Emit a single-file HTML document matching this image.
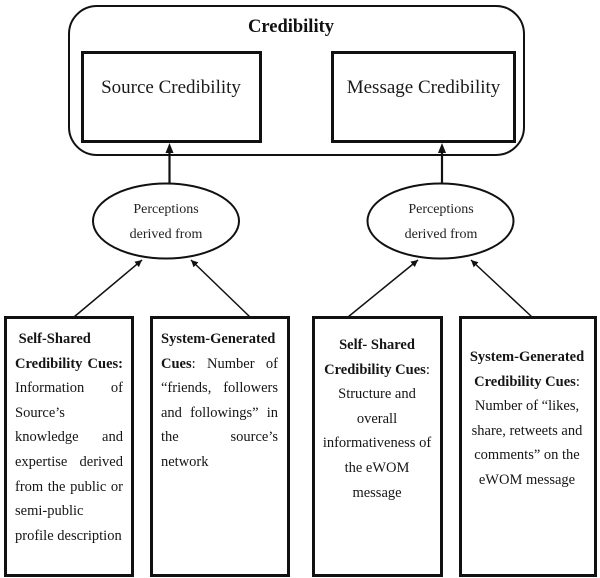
<!DOCTYPE html>
<html>
<head>
<meta charset="utf-8">
<style>
  html,body{margin:0;padding:0;background:#fff;}
  body{width:600px;height:578px;position:relative;overflow:hidden;}
  svg{position:absolute;left:0;top:0;}
  .tb{position:absolute;font-family:"Liberation Serif",serif;font-size:14.5px;line-height:24.6px;color:#151515;}
  .tb div{white-space:nowrap;}
  .j{text-align:justify;text-align-last:justify;white-space:normal !important;}
  .c{text-align:center;}
  b{font-weight:bold;}
</style>
</head>
<body>
<svg width="600" height="578" viewBox="0 0 600 578" xmlns="http://www.w3.org/2000/svg">
  <defs>
    <marker id="ah" viewBox="0 0 10 10" refX="10" refY="5" markerWidth="7" markerHeight="7" markerUnits="userSpaceOnUse" orient="auto">
      <path d="M0,0 L10,5 L0,10 z" fill="#111"/>
    </marker>
  </defs>
  <!-- outer rounded container -->
  <rect x="69" y="6" width="455" height="149" rx="28" ry="28" fill="none" stroke="#111" stroke-width="2"/>
  <text x="291" y="32" text-anchor="middle" font-family="Liberation Serif, serif" font-weight="bold" font-size="18.5" fill="#111">Credibility</text>
  <!-- inner boxes -->
  <rect x="82.5" y="52.5" width="178" height="89" fill="#fff" stroke="#111" stroke-width="3"/>
  <rect x="332.5" y="52.5" width="182" height="89" fill="#fff" stroke="#111" stroke-width="3"/>
  <text x="171" y="93" text-anchor="middle" font-family="Liberation Serif, serif" font-size="19" fill="#1a1a1a">Source Credibility</text>
  <text x="423.5" y="93" text-anchor="middle" font-family="Liberation Serif, serif" font-size="19" fill="#1a1a1a">Message Credibility</text>

  <!-- vertical arrows -->
  <line x1="169.5" y1="184" x2="169.5" y2="150" stroke="#111" stroke-width="2.2"/>
  <path d="M169.5,143 L173.5,153 L165.5,153 z" fill="#111"/>
  <line x1="442" y1="184" x2="442" y2="150" stroke="#111" stroke-width="2.2"/>
  <path d="M442,143 L446,153 L438,153 z" fill="#111"/>

  <!-- ellipses -->
  <ellipse cx="166" cy="221" rx="73" ry="37.5" fill="#fff" stroke="#111" stroke-width="2"/>
  <ellipse cx="440.5" cy="221" rx="73" ry="37.5" fill="#fff" stroke="#111" stroke-width="2"/>
  <text x="166" y="213" text-anchor="middle" font-family="Liberation Serif, serif" font-size="14" fill="#222">Perceptions</text>
  <text x="166" y="238" text-anchor="middle" font-family="Liberation Serif, serif" font-size="14" fill="#222">derived from</text>
  <text x="441" y="213" text-anchor="middle" font-family="Liberation Serif, serif" font-size="14" fill="#222">Perceptions</text>
  <text x="441" y="238" text-anchor="middle" font-family="Liberation Serif, serif" font-size="14" fill="#222">derived from</text>

  <!-- diagonal arrows -->
  <line x1="74" y1="317" x2="142" y2="260" stroke="#111" stroke-width="1.5" marker-end="url(#ah)"/>
  <line x1="250" y1="317" x2="191" y2="260" stroke="#111" stroke-width="1.5" marker-end="url(#ah)"/>
  <line x1="348" y1="317" x2="418" y2="260" stroke="#111" stroke-width="1.5" marker-end="url(#ah)"/>
  <line x1="532" y1="317" x2="471" y2="260" stroke="#111" stroke-width="1.5" marker-end="url(#ah)"/>

  <!-- bottom boxes -->
  <rect x="5.5" y="317.5" width="127" height="258" fill="#fff" stroke="#111" stroke-width="3"/>
  <rect x="151.5" y="317.5" width="137" height="258" fill="#fff" stroke="#111" stroke-width="3"/>
  <rect x="313.5" y="317.5" width="128" height="258" fill="#fff" stroke="#111" stroke-width="3"/>
  <rect x="460.5" y="317.5" width="135" height="258" fill="#fff" stroke="#111" stroke-width="3"/>
</svg>

<div class="tb" style="left:15px;top:327px;width:108px;">
  <div>&nbsp;<b>Self-Shared</b></div>
  <div class="j"><b>Credibility Cues:</b></div>
  <div class="j">Information of</div>
  <div>Source’s</div>
  <div class="j">knowledge and</div>
  <div class="j">expertise derived</div>
  <div class="j">from the public or</div>
  <div>semi-public</div>
  <div>profile description</div>
</div>

<div class="tb" style="left:161px;top:327px;width:117px;">
  <div><b>System-Generated</b></div>
  <div class="j"><b>Cues</b>: Number of</div>
  <div class="j">“friends, followers</div>
  <div class="j">and followings” in</div>
  <div class="j">the source’s</div>
  <div>network</div>
</div>

<div class="tb c" style="left:317px;top:333px;width:120px;">
  <div><b>Self- Shared</b></div>
  <div><b>Credibility Cues</b>:</div>
  <div>Structure and</div>
  <div>overall</div>
  <div>informativeness of</div>
  <div>the eWOM</div>
  <div>message</div>
</div>

<div class="tb c" style="left:464px;top:345px;width:126px;">
  <div><b>System-Generated</b></div>
  <div><b>Credibility Cues</b>:</div>
  <div>Number of “likes,</div>
  <div>share, retweets and</div>
  <div>comments” on the</div>
  <div>eWOM message</div>
</div>
</body>
</html>
